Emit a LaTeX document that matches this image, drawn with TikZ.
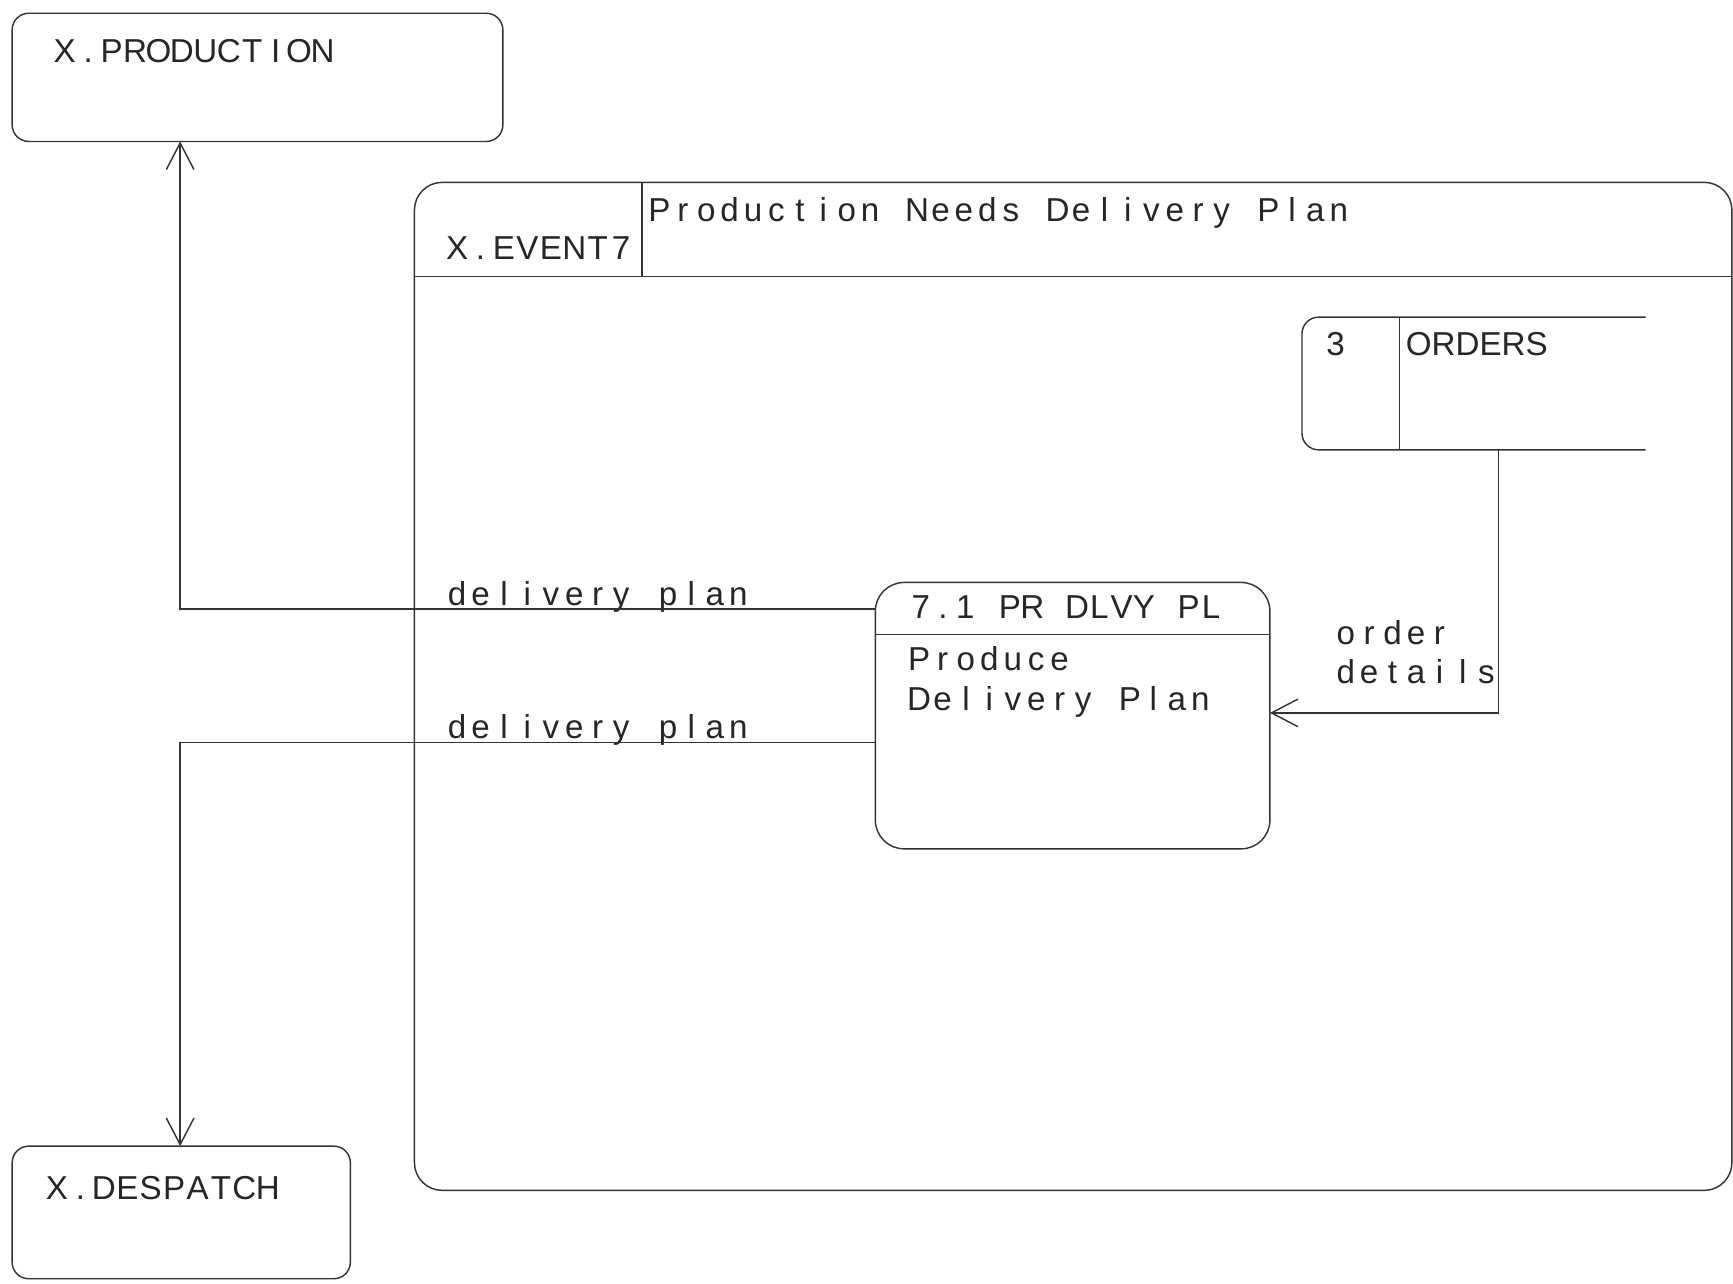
\documentclass[tikz,border=0pt]{standalone}
\usepackage{fontspec}
\setmainfont{Liberation Sans}
\usetikzlibrary{arrows.meta}
\newlength\monopitch
\ExplSyntaxOn
\NewDocumentCommand\mono{O{10.6pt}m}
 {
  \setlength\monopitch{#1}
  \seq_set_split:Nnn \l_tmpa_seq {~} {#2}
  \seq_map_indexed_inline:Nn \l_tmpa_seq
   {
    \int_compare:nT {##1>1} {\makebox[\monopitch]{}}
    \tl_map_inline:nn {##2} {\makebox[\monopitch]{####1}}
   }
 }
\ExplSyntaxOff
\begin{document}
\begin{tikzpicture}[x=0.5pt,y=-0.5pt, line width=0.65pt, color=black!80,
  every node/.style={inner sep=0pt, outer sep=0pt},
  ext/.style={draw, rounded corners=7.5pt},
  txt/.style={anchor=base west, font=\fontsize{15}{18}\selectfont, text=black!85},
  flow/.style={draw, -{Straight Barb[length=12pt,width=12.5pt,line width=0.65pt]}}]
\useasboundingbox (0,0) rectangle (1568,1161);
% external entities
\node[ext, minimum width=222pt, minimum height=58pt] (prod) at (233,70) {};
\node[ext, minimum width=153pt, minimum height=60pt] (desp) at (164,1097) {};
% event frame
\node[ext, rounded corners=12.5pt, minimum width=596pt, minimum height=456pt] (event) at (971,621) {};
\draw (event.west |- 0,250) -- (event.east |- 0,250);
\draw (event.north -| 581,0) -- (581,250);
% process
\node[ext, rounded corners=13pt, minimum width=178.5pt, minimum height=120.5pt] (proc) at (970.5,647.5) {};
\draw (proc.west |- 0,574) -- (proc.east |- 0,574);
% data store
\node[minimum width=155.5pt, minimum height=60pt] (store) at (1333.5,347) {};
\draw[rounded corners=7.5pt] (store.north east) -- (store.north west) -- (store.south west) -- (store.south east);
\draw (store.north -| 1266,0) -- (store.south -| 1266,0);
% texts
\node[txt] (tprod) at (48,57) {\mono{X.PRODUCTION}};
\node[txt] (tdesp) at (41,1085) {\mono{X.DESPATCH}};
\node[txt] (tev) at (403,235) {\mono{X.EVENT7}};
\node[txt] (tevn) at (586,200) {\mono{Production Needs Delivery Plan}};
\node[txt] (tnum) at (1200,322) {3};
\node[txt] (tord) at (1272,322) {ORDERS};
\node[txt] (tpid) at (823,560) {\mono[10.1pt]{7.1 PR DLVY PL}};
\node[txt] (tpn1) at (821,607) {\mono{Produce}};
\node[txt] (tpn2) at (821,643) {\mono{Delivery Plan}};
\node[txt] (l1) at (403,548) {\mono{delivery plan}};
\node[txt] (l2) at (403,668) {\mono{delivery plan}};
\node[txt] (l3) at (1207,583) {\mono{order}};
\node[txt] (l4) at (1207,618) {\mono{details}};
% flows
\draw[flow] (proc.west |- 0,551) -| (prod.south -| 163,0);
\draw[flow] (proc.west |- 0,672) -| (desp.north -| 163,0);
\draw[flow] (store.south -| 1356,0) |- (proc.east |- 0,645);
\end{tikzpicture}
\end{document}
